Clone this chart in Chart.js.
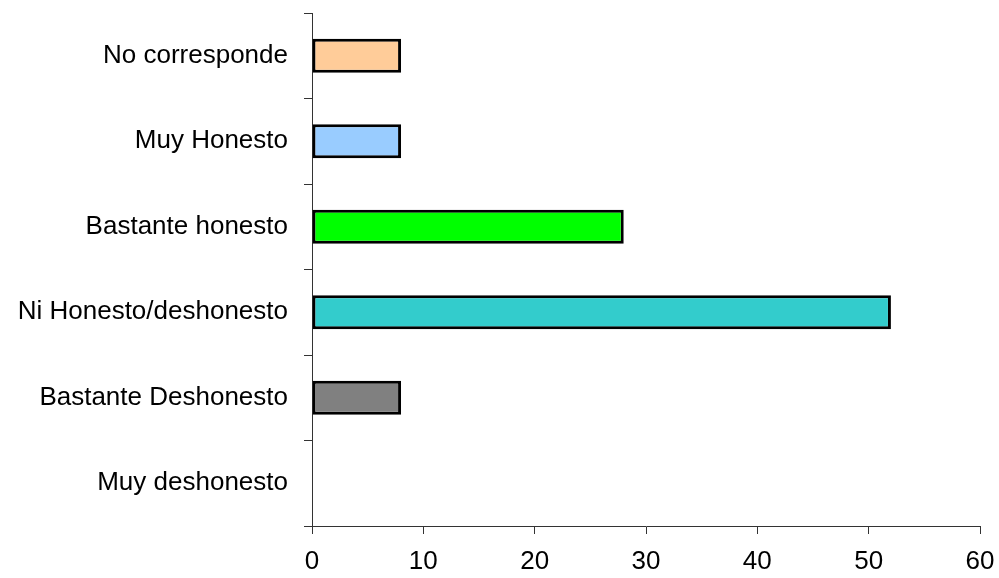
<!DOCTYPE html>
<html>
<head>
<meta charset="utf-8">
<script src="https://cdn.jsdelivr.net/npm/chart.js@4/dist/chart.umd.min.js"></script>
<style>
  html, body { margin: 0; padding: 0; background: #fff; }
  #chart { display: block; }
</style>
</head>
<body>
<canvas id="chart" width="999" height="578"></canvas>
<script>
// Categories, top to bottom
const categories = ['No corresponde', 'Muy Honesto', 'Bastante honesto', 'Ni Honesto/deshonesto', 'Bastante Deshonesto', 'Muy deshonesto'];
const values = [8, 8, 28, 52, 8, 0];
const barColors = ['#FFCC99', '#99CCFF', '#00FF00', '#33CCCC', '#808080', '#FFFFFF'];
const xTicks = [0, 10, 20, 30, 40, 50, 60];

const labelFont = { family: '"Liberation Sans", Arial, sans-serif', size: 26 };
const axisColor = '#333';

new Chart(document.getElementById('chart').getContext('2d'), {
    type: 'bar',
    data: {
        labels: categories,
        datasets: [{
            data: values,
            backgroundColor: barColors,
            borderColor: '#000',
            borderWidth: ctx => (ctx.raw === 0 ? 0 : 3),
            borderSkipped: false,
            barPercentage: 0.4,
            categoryPercentage: 1
        }]
    },
    options: {
        indexAxis: 'y',
        responsive: false,
        animation: false,
        devicePixelRatio: 1,
        layout: { padding: { top: 13, right: 19, left: 0, bottom: 0 } },
        plugins: { legend: { display: false }, tooltip: { enabled: false } },
        scales: {
            x: {
                min: xTicks[0],
                max: xTicks[xTicks.length - 1],
                afterBuildTicks: scale => { scale.ticks = xTicks.map(v => ({ value: v })); },
                afterFit: scale => {
                    scale.height = 52;
                    scale.paddingLeft = 0;
                    scale.paddingRight = 0;
                },
                border: { display: true, color: axisColor, width: 1 },
                grid: { drawOnChartArea: false, drawTicks: true, tickLength: 8, color: axisColor },
                ticks: { color: '#000', font: labelFont, padding: 12, maxRotation: 0 }
            },
            y: {
                afterFit: scale => {
                    scale.width = 312;
                    scale.paddingTop = 0;
                    scale.paddingBottom = 0;
                },
                border: { display: true, color: axisColor, width: 1 },
                grid: { drawOnChartArea: false, drawTicks: true, tickLength: 8, color: axisColor, offset: true },
                ticks: { color: '#000', font: labelFont, padding: 16 }
            }
        }
    }
});
</script>
</body>
</html>
